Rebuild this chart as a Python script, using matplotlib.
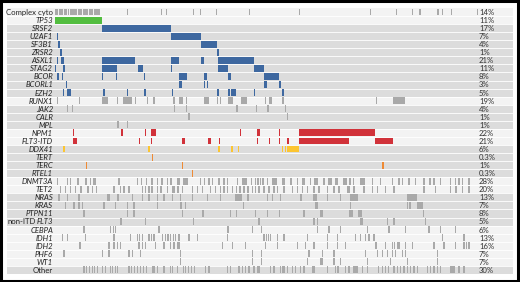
import matplotlib
matplotlib.use("Agg")
import matplotlib.pyplot as plt
from matplotlib.patches import Rectangle

# row labels, top to bottom
genes = ['Complex cyto', 'TP53', 'SRSF2', 'U2AF1', 'SF3B1', 'ZRSR2', 'ASXL1', 'STAG2',
         'BCOR', 'BCORL1', 'EZH2', 'RUNX1', 'JAK2', 'CALR', 'MPL', 'NPM1', 'FLT3-ITD',
         'DDX41', 'TERT', 'TERC', 'RTEL1', 'DNMT3A', 'TET2', 'NRAS', 'KRAS', 'PTPN11',
         'non-ITD FLT3', 'CEBPA', 'IDH1', 'IDH2', 'PHF6', 'WT1', 'Other']
pct = ['14%', '11%', '17%', '7%', '4%', '1%', '21%', '11%', '8%', '3%', '5%', '19%',
       '4%', '1%', '1%', '22%', '21%', '6%', '0.3%', '1%', '0.3%', '28%', '20%', '13%',
       '7%', '8%', '5%', '6%', '13%', '16%', '7%', '7%', '30%']
# True = darker band
gray_band = [False, False] + [True] * 9 + [False] + [True] * 3 + [False] * 2 + \
            [True] * 4 + [False] * 2 + [True] * 4 + [False] * 5 + [True]
# mutation colour per row (None = grey tick)
row_color = {'TP53': '#52bd3f', 'SRSF2': '#3e68a0', 'U2AF1': '#3e68a0', 'SF3B1': '#3e68a0',
             'ZRSR2': '#3e68a0', 'ASXL1': '#3e68a0', 'STAG2': '#3e68a0', 'BCOR': '#3e68a0',
             'BCORL1': '#3e68a0', 'EZH2': '#3e68a0', 'NPM1': '#d1323a', 'FLT3-ITD': '#d1323a',
             'DDX41': '#fcc531', 'TERT': '#ee8a35', 'TERC': '#ee8a35', 'RTEL1': '#ee8a35'}

# patient positions (sorted patient columns, 0..422); number = single patient, tuple = run
muts = {
    'Complex cyto': [(0, 3), (3.6, 8), (8.8, 12), (13, 14.3), (15, 22), (23, 27), (28, 33),
                     (34, 38), (39, 45), 72, 106, 110.5, 137.7, 145, 161, 194, 244, 315, 341,
                     356.7, 364.3, 382.3, 386.7, 396, 421.7],
    'TP53': [(0, 47)],
    'SRSF2': [(47, 116)],
    'U2AF1': [(1.7, 3.3), (116, 146)],
    'SF3B1': [(3.3, 5), (146, 162)],
    'ZRSR2': [(5, 6.7), (162, 163.5)],
    'ASXL1': [(1.7, 3), (6, 9), (46.7, 80), (116, 124.3), (145.7, 149), (163, 199)],
    'STAG2': [(0, 1), (8.3, 10.3), (46.7, 61.7), (83, 88), (116, 117), (163, 173), (199, 209)],
    'BCOR': [(2, 3.7), (6.7, 8), (46.7, 48), (61, 62.3), (89, 90.3), (124, 132), (149, 152),
             (173, 176), (209, 224)],
    'BCORL1': [(10.7, 12), (124, 127), (149, 150), (151.7, 153), (209, 212), (224, 226)],
    'EZH2': [(8, 9), (11.7, 16.3), (48.3, 49.7), (71.7, 72.7), (89, 90.7), (116.7, 118.3),
             (161.7, 163.7), (173, 175), (176, 181), (199, 200), (226.7, 229)],
    'RUNX1': [(1.7, 3), 24, (46.7, 53.3), 61.7, (68.3, 76.7), 80, 91.7, (98.3, 100), 118.3,
              (124.3, 128.3), 131, (149.3, 154), 161.7, 165, (173.3, 178.3), (186, 192.3),
              210, (214, 216.7), (226.7, 229.3), 320.7, (337.7, 350)],
    'JAK2': [11.7, 16.7, 118.5, 131, (180.7, 183.3), 201, 212.3, 230],
    'CALR': [133.3, 231.7],
    'MPL': [62.3, 71.7],
    'NPM1': [(17.7, 19), (65.7, 67.7), (90, 91), (95.7, 101), (185, 186.3), (202.3, 205),
             (223.7, 225), (244, 320)],
    'FLT3-ITD': [(17.7, 22.3), (84, 85.3), (95.7, 97), (127, 129.7), (153, 155.7),
                 (164.3, 165.3), (202, 203.3), (213.7, 215), (223.7, 225), (232.3, 233.7),
                 (244, 294), (320, 337.7)],
    'DDX41': [(7.7, 10.3), (92.7, 95.3), (163, 164.7), (176, 178.3), (183, 184.3),
              (226.7, 228.3), (229.7, 231.3), (232.3, 244)],
    'TERT': [(97, 98.3)],
    'TERC': [(30.7, 32), (126.7, 128.3), (327.3, 328.7)],
    'RTEL1': [(137, 138.3)],
    'DNMT3A': [1.7, 11.7, 15, (22.3, 23.7), (30, 31.7), 35, (38.3, 40.7), 63.3, 81.7, 86, 91,
               (96, 97.7), 101.7, 106.3, 111.7, (115, 116.7), 121.7, (123.3, 125),
               (128.3, 133.3), 145, 149, 153.3, 156.7, 163.3, 168.3, 171.7, 181.7,
               (186.7, 191.7), 196, 200, 202.3, 205, 207.3, 211.7, (216.7, 221.7),
               (226.7, 230), (235, 236.7), 241.7, (246.7, 250), 255, (259.3, 263.3), 268.3,
               (273.3, 276.7), (280, 283.3), (288.3, 291.7), 294.3, (297.7, 299), (305, 310),
               (316.7, 318.3), 325, (336.7, 338.3), 343.3, 346.7, 353.3, 360, 368.3, 374.3,
               (378.3, 380), 385, 395, 400, 403.3, 406.7, 413.3],
    'TET2': [5, 10, 15, 20, (25, 27.3), 32.3, 36.7, 40.7, 58.3, 65, 68.3, (73.3, 75), 86.7,
             90, 93.3, (96, 98.3), 101.7, (105, 106.7), 111.7, 116.7, 118.3, 122.3,
             (126.7, 128.3), 136.7, 141.7, 146.7, 155, 160, 165, 168.3, 171.7, 176.7, 181,
             184.3, 188.3, 192.3, 196.7, 200, 203.3, 208.3, 213.3, 218.3, 221.7, 228.3,
             236.7, 241.7, 246.7, 251.7, 258.3, 263.3, 271.7, 278.3, 283.3, 291.7, 293.3,
             298.3, 308.3, 316.7, 321.7, 330, 338.3, 368.3, 380, 395, (400, 401.7), 406.7,
             413.3],
    'NRAS': [3.3, 11.7, (23.3, 25), (51.7, 55), (61.7, 64.3), 76.7, 86.7, 93.3, 101.7, 108.3,
             116.7, 125, 136.7, 151.7, 165, (180, 186.7), (192.3, 194.3), 211.7, 216.7, 225,
             (245, 246.7), (258.3, 261.7), 271.7, 285, (295, 303.3), (351.7, 361.7)],
    'KRAS': [10, 18.3, 23.3, 26.7, 48.3, 60, 71.7, 78.3, 101.7, (125, 126.7), 130, 187.7,
             (260, 263.3), 295, 351.7, 354.3, (362.3, 367.7)],
    'PTPN11': [(28.3, 30), 71.7, 78.3, 126.7, (146.7, 149.3), 175, 181, 200, 211.7, 224,
               248.3, (265, 268.3), (294.3, 297.7), (303.3, 306.7), 367.7],
    'non-ITD FLT3': [(65, 67), 90, 137.7, (203.3, 205), 258.3, 261.7, (305, 308.3), 331.7,
                     338.3, 370],
    'CEBPA': [28.3, 55, 57.5, 60, 103.3, 172.3, 196.7, 205.7, 261.7, 273.3, 285, 311.7, 333.3,
              350, 373.3, 385, 400],
    'IDH1': [6.7, 11.7, 30, 58.3, 75, 81.7, 84, 86.7, 93.3, 96, 98.3, 106.7, 109.5, 112.3, 115,
             117.7, 120, 123.3, 133.3, 141.7, 171.7, 208.3, 211, 213, 215, 221.7, 228.3, 251.7,
             271.7, 281.7, 300, 305, 310, 313.3, 318.3, 386.7, 408.3],
    'IDH2': [24.3, 53.3, 58.3, 61.7, 65, 83.3, 86.7, 90, 100, 108.3, 115, 118.3, 121.7, 123.3,
             166.7, 176.7, 190, 210, 221.7, (241.7, 243.3), 250, 258.3, 271.7, 281.7, 290,
             (320, 321.7), 330, 336.7, 339, 341.5, 343.3, 350, 356.7, 378.3, 388.3, 400,
             408.3, 410.5, 413.3],
    'PHF6': [8.3, 46.7, 53.3, 73.3, 76.7, 85, 125, 196.7, 205.7, 253.3, 266.7, 278.3, 310,
             321.7, 326.7, 331.7, 336.7, 340, 346.7, 350, 381.7],
    'WT1': [125, 196.7, 205.7, 251.7, (265, 267.7), 278.3, 285, 311.7, 335, 351.7, 381.7],
    'Other': [28.3, 31, 34, 36.7, 39, 41.7, 46.7, 50, 55, 56.7, 60, 61.7, 73.3, 76, 79, 82, 85,
              88, 91, 96.7, 98.3, 101.7, 108.3, 115, 116.7, 121.7, 127.7, 130, 133, 135.5,
              138.5, 150, 153.3, 171.7, 175, 183.3, 186.7, 190, 193.3, 198.3, 201.7, 203.3,
              215, 218.3, 225, 226.7, 228.3, 231.7, 236.7, 240, 245, 248.3, 256.7, 258.3,
              271.7, 280, 282.3, 290, 293.3, (298.3, 303.3), 306.7, 311.7, 323, 326.7, 330,
              333, 338.3, 341.7, 345, 348.3, 351.7, 355, 358.3, 361.7, 371.7, 375, 378.3, 381.7,
              385, (395, 400), 403.3, 408.3],
}

italic_off = {'Complex cyto', 'Other', 'non-ITD FLT3'}

plt.rcParams['font.family'] = ['Lato', 'DejaVu Sans']
fig = plt.figure(figsize=(5.2, 2.82), dpi=100)
ax = fig.add_axes([0, 0, 1, 1])
ax.set_xlim(-55, 465)
ax.set_ylim(34.0, -0.993)
ax.axis('off')

n = len(genes)
for r, g in enumerate(genes):
    band = '#dcdcdc' if gray_band[r] else '#f3f3f3'
    ax.add_patch(Rectangle((-48, r), 506, 1, facecolor=band, edgecolor='none', zorder=0))
    c = row_color.get(g, '#a9a9a9')
    segs = []
    for m in muts[g]:
        if isinstance(m, tuple):
            segs.append((m[0], m[1] - m[0]))
        else:
            segs.append((m, 1.3))
    ax.broken_barh(segs, (r + 0.07, 0.86), facecolors=c, edgecolor='none', zorder=2)
    ax.text(424, r + 0.55, pct[r], ha='left', va='center', fontsize=5.6, color='#333333')

# row separators
for r in range(1, n):
    ax.plot([-48, 458], [r, r], color='white', lw=0.6, zorder=1)

# labels
fig.canvas.draw()
renderer = fig.canvas.get_renderer()
for r, g in enumerate(genes):
    y = r + 0.55
    if g == 'non-ITD FLT3':
        t = ax.text(-2, y, 'FLT3', ha='right', va='center', fontsize=5.6,
                    style='italic', color='#222222')
        bb = t.get_window_extent(renderer)
        x0 = ax.transData.inverted().transform((bb.x0, 0))[0]
        ax.text(x0 - 1, y, 'non-ITD', ha='right', va='center', fontsize=5.6,
                color='#222222')
    else:
        ax.text(-2, y, g, ha='right', va='center', fontsize=5.6,
                style='normal' if g in italic_off else 'italic', color='#222222')

# outer frame
fig.patches.append(Rectangle((0.002, 0.004), 0.994, 0.992, transform=fig.transFigure,
                             fill=False, edgecolor='black', lw=2.2))

fig.savefig('out.png', dpi=100)
